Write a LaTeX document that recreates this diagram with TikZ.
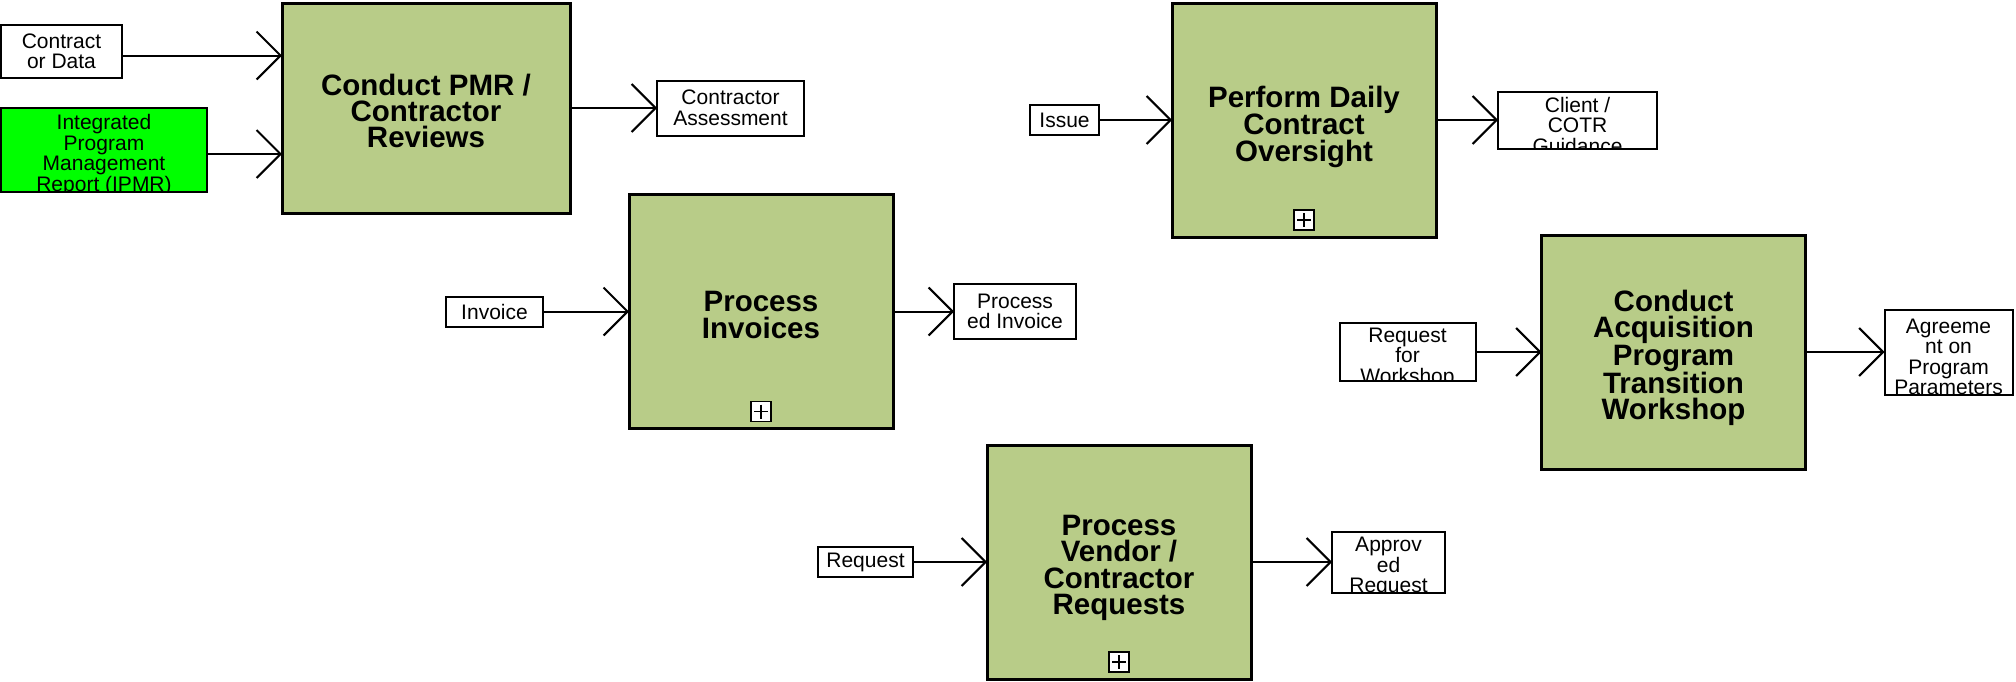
\documentclass[tikz,border=0pt]{standalone}
\usepackage{fontspec}
\setmainfont{Liberation Sans}
\usetikzlibrary{arrows.meta,positioning}

\definecolor{procgreen}{HTML}{B8CC88}
\definecolor{ipmrgreen}{HTML}{00FF00}
\newcommand\iofont{\fontsize{21pt}{20.5pt}\selectfont}
\newcommand\procfont{\fontsize{29.5pt}{26.3pt}\selectfont\bfseries}

\begin{document}
\begin{tikzpicture}[
  x=1pt,y=-1pt,
  >={Straight Barb[length=24pt,width=48pt]},
  proc/.style={draw,line width=3pt,fill=procgreen,
               inner sep=0pt,outer sep=0pt,minimum width=264pt,minimum height=234pt},
  proctext/.style={align=center,font=\procfont,inner sep=0pt},
  io/.style={draw,line width=2pt,fill=white,align=center,font=\iofont,
             inner sep=0pt,outer sep=0pt},
  clipped/.style={path picture={\node[anchor=north,align=center,font=\iofont,inner sep=0pt]
               at ([yshift=-5pt]path picture bounding box.north) {#1};}},
  plusbox/.style={draw,line width=1.5pt,fill=white,minimum size=20pt,inner sep=0pt,outer sep=0pt,
               path picture={\draw[line width=1.3pt]
                 ([yshift=-3pt]path picture bounding box.north) -- ([yshift=3pt]path picture bounding box.south)
                 ([xshift=3pt]path picture bounding box.west) -- ([xshift=-3pt]path picture bounding box.east);}},
  flow/.style={->,line width=2pt},
]
\useasboundingbox (0,0) rectangle (2016,681);

% ---- PMR / contractor reviews (top left) ---------------------------------
\node[proc,minimum width=288pt,minimum height=210pt] (pmr) at (426,108) {};
\node[proctext] (pmr-text) at ([yshift=-3pt]pmr.center) {Conduct PMR /\\Contractor\\Reviews};
\node[io,minimum width=121pt,minimum height=53pt] (cod) at (61.5,51.5) {Contract\\or Data};
\node[io,fill=ipmrgreen,minimum width=206pt,minimum height=84pt,
      clipped={Integrated\\Program\\Management\\Report (IPMR)}] (ipmr) at (104,150) {};
\node[io,right=87pt of pmr,minimum width=147pt,minimum height=55pt] (ca) {Contractor\\Assessment};

\draw[flow] ([yshift=-4pt]cod.east)  -- ([yshift=-4pt]cod.east -| pmr.west);
\draw[flow] ([yshift=-4pt]ipmr.east) -- ([yshift=-4pt]ipmr.east -| pmr.west);
\draw[flow] (pmr)  -- (ca);

% ---- invoices -------------------------------------------------------------
\node[proc] (pinv) at (761,311.5) {};
\node[proctext] (pinv-text) at ([yshift=-3.5pt]pinv.center) {Process\\Invoices};
\node[io,left=86pt of pinv,minimum width=97pt,minimum height=30pt] (inv) {Invoice};
\node[io,right=61pt of pinv,minimum width=122pt,minimum height=55pt] (pinvout) {Process\\ed Invoice};

\draw[flow] (inv)  -- (pinv);
\draw[flow] (pinv) -- (pinvout);

% ---- daily oversight ------------------------------------------------------
\node[proc] (pdo) at (1304,120) {};
\node[proctext] (pdo-text) at ([yshift=-6.5pt]pdo.center) {Perform Daily\\Contract\\Oversight};
\node[io,left=73pt of pdo,minimum width=69pt,minimum height=30pt] (issue) {Issue};
\node[io,right=62pt of pdo,minimum width=159pt,minimum height=57pt,
      clipped={Client /\\COTR\\Guidance}] (cotr) {};

\draw[flow] (issue) -- (pdo);
\draw[flow] (pdo)   -- (cotr);

% ---- acquisition program transition workshop -----------------------------
\node[proc] (capt) at (1673.5,352) {};
\node[proctext] (capt-text) at ([yshift=-6pt]capt.center) {Conduct\\Acquisition\\Program\\Transition\\Workshop};
\node[io,left=66pt of capt,minimum width=136pt,minimum height=58pt,
      clipped={Request\\for\\Workshop}] (rfw) {};
\node[io,right=79pt of capt,minimum width=128pt,minimum height=85pt,
      clipped={Agreeme\\nt on\\Program\\Parameters}] (agr) {};

\draw[flow] (rfw)  -- (capt);
\draw[flow] (capt) -- (agr);

% ---- vendor / contractor requests ----------------------------------------
\node[proc] (pvcr) at (1119,562) {};
\node[proctext] (pvcr-text) at ([yshift=-6pt]pvcr.center) {Process\\Vendor /\\Contractor\\Requests};
\node[io,left=74pt of pvcr,minimum width=95pt,minimum height=30pt] (req) {Request};
\node[io,right=81pt of pvcr,minimum width=113pt,minimum height=61pt,
      clipped={Approv\\ed\\Request}] (apr) {};

\draw[flow] (req)  -- (pvcr);
\draw[flow] (pvcr) -- (apr);

% ---- sub-process markers --------------------------------------------------
\foreach \p in {pinv,pdo,pvcr}
  \node[plusbox] (\p-plus) at ([yshift=17pt]\p.south) {};

\end{tikzpicture}
\end{document}
